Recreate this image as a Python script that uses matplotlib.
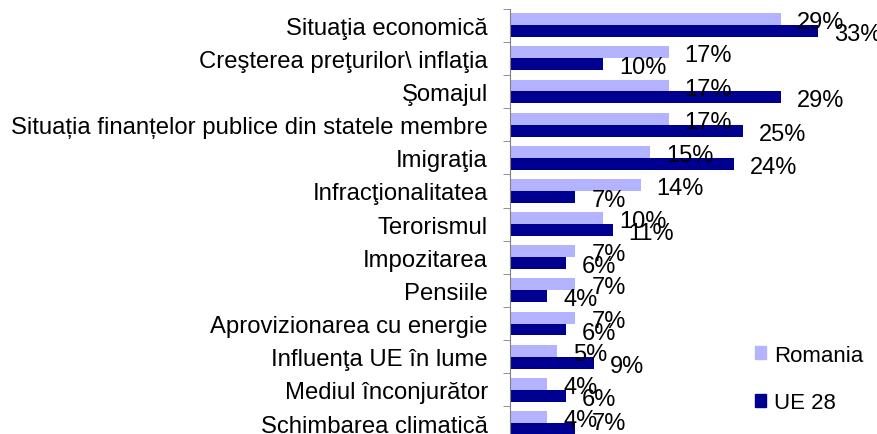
import matplotlib.pyplot as plt
import numpy as np
from matplotlib.patches import Patch

plt.rcParams['font.family'] = ['Liberation Sans', 'DejaVu Sans']

categories = ['Situaţia economică', 'Creşterea preţurilor\\ inflaţia', 'Şomajul',
              'Situația finanțelor publice din statele membre', 'Imigraţia',
              'Infracţionalitatea', 'Terorismul', 'Impozitarea', 'Pensiile',
              'Aprovizionarea cu energie', 'Influenţa UE în lume',
              'Mediul înconjurător', 'Schimbarea climatică']
romania = [29, 17, 17, 17, 15, 14, 10, 7, 7, 7, 5, 4, 4]
ue28 = [33, 10, 29, 25, 24, 7, 11, 6, 4, 6, 9, 6, 7]

c_ro = '#B3B3FF'
c_ue = '#000090'
fs = 17

fig = plt.figure(figsize=(8.77, 4.35), dpi=100)
ax = fig.add_axes([510 / 877, -5.6 / 435, 360 / 877, 431 / 435])

y = np.arange(len(categories))
h = 0.36
ax.barh(y - h / 2, romania, height=h, color=c_ro)
ax.barh(y + h / 2, ue28, height=h, color=c_ue)

last = len(categories) - 1
for i, v in enumerate(romania):
    ax.annotate(f'{v}%', (v, i - h / 2), xytext=(16, -3), textcoords='offset pixels',
                ha='left', va='center', fontsize=fs)
for i, v in enumerate(ue28):
    dy = 6 if i == last else -3
    ax.annotate(f'{v}%', (v, i + h / 2), xytext=(16, dy), textcoords='offset pixels',
                ha='left', va='center', fontsize=fs)

ax.set_xlim(0, 360 / 9.33)
ax.set_ylim(len(categories) - 0.5, -0.5)
ax.set_yticks(y)
ax.set_yticklabels(categories, fontsize=17.2)
ax.tick_params(axis='y', length=0, pad=16)
ax.set_yticks(np.arange(-0.5, len(categories), 1), minor=True)
ax.tick_params(axis='y', which='minor', length=5, color='#808080', direction='out')
ax.set_xticks([])
for s in ['top', 'right', 'bottom']:
    ax.spines[s].set_visible(False)
ax.spines['left'].set_color('#808080')

handles = [Patch(color=c_ro, label='Romania'), Patch(color=c_ue, label='UE 28')]
fig.legend(handles=handles, loc='center left', bbox_to_anchor=(735 / 877, 1 - 380 / 435),
           frameon=False, fontsize=16, handlelength=0.5, handleheight=0.5,
           handletextpad=0.35, labelspacing=1.2)

fig.savefig('out.png', dpi=100)
